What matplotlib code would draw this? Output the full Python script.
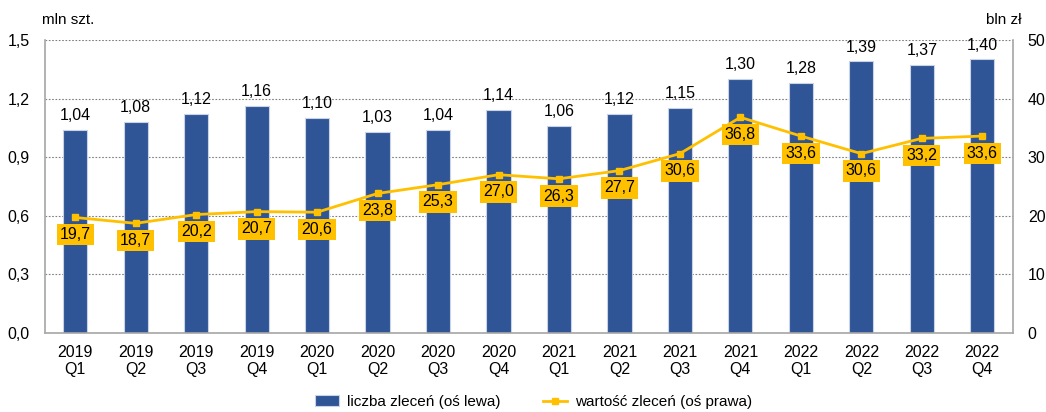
import matplotlib.pyplot as plt
import numpy as np
from matplotlib.ticker import FuncFormatter

plt.rcParams['font.family'] = ['Liberation Sans', 'DejaVu Sans']

quarters = ['2019\nQ1', '2019\nQ2', '2019\nQ3', '2019\nQ4',
            '2020\nQ1', '2020\nQ2', '2020\nQ3', '2020\nQ4',
            '2021\nQ1', '2021\nQ2', '2021\nQ3', '2021\nQ4',
            '2022\nQ1', '2022\nQ2', '2022\nQ3', '2022\nQ4']
liczba = [1.04, 1.08, 1.12, 1.16, 1.10, 1.03, 1.04, 1.14,
          1.06, 1.12, 1.15, 1.30, 1.28, 1.39, 1.37, 1.40]
wartosc = [19.7, 18.7, 20.2, 20.7, 20.6, 23.8, 25.3, 27.0,
           26.3, 27.7, 30.6, 36.8, 33.6, 30.6, 33.2, 33.6]

blue = '#2F5597'
yellow = '#FFC000'
gray = '#A6A6A6'
fs = 11.5

def comma(v, nd):
    return f'{v:.{nd}f}'.replace('.', ',')

fig = plt.figure(figsize=(10.46, 4.12), dpi=100)
ax = fig.add_axes([0.043, 0.192, 0.925, 0.711])
x = np.arange(len(quarters))

bars = ax.bar(x, liczba, width=0.4, color=blue, edgecolor='#C9D3E6', linewidth=0.8, zorder=2,
              label='liczba zleceń (oś lewa)')
ax.set_ylim(0, 1.5)
ax.set_yticks(np.arange(0, 1.51, 0.3))
ax.yaxis.set_major_formatter(FuncFormatter(lambda v, p: comma(v, 1)))
ax.set_xlim(-0.5, 15.5)
ax.set_xticks(x)
ax.set_xticklabels(quarters, fontsize=fs, linespacing=1.15)
ax.tick_params(axis='y', labelsize=fs, length=0, pad=11)
ax.tick_params(axis='x', length=0, pad=9)
ax.grid(axis='y', linestyle=(0, (1.5, 1.5)), color='#7F7F7F', linewidth=0.8, zorder=0)
ax.spines['top'].set_visible(False)
for s in ['left', 'right', 'bottom']:
    ax.spines[s].set_color(gray)
    ax.spines[s].set_linewidth(1.2)

for xi, v in zip(x, liczba):
    ax.annotate(comma(v, 2), (xi, v), xytext=(0, 5), textcoords='offset points',
                ha='center', va='bottom', fontsize=fs)

ax2 = ax.twinx()
ax2.set_ylim(0, 50)
ax2.set_yticks(np.arange(0, 51, 10))
ax2.tick_params(axis='y', labelsize=fs, length=0, pad=11)
for s in ax2.spines.values():
    s.set_visible(False)
line, = ax2.plot(x, wartosc, color=yellow, linewidth=2, marker='s', markersize=5, zorder=3,
                 label='wartość zleceń (oś prawa)')
for xi, v in zip(x, wartosc):
    ax2.annotate(comma(v, 1), (xi, v), xytext=(0, -7), textcoords='offset points',
                 ha='center', va='top', fontsize=fs,
                 bbox=dict(boxstyle='square,pad=0.2', fc=yellow, ec='none'))

fig.text(0.04, 0.935, 'mln szt.', fontsize=fs - 0.5, ha='left', va='bottom')
fig.text(0.977, 0.935, 'bln zł', fontsize=fs - 0.5, ha='right', va='bottom')

fig.legend(handles=[bars, line], loc='center', bbox_to_anchor=(0.51, 0.024), ncol=2,
           frameon=False, fontsize=11, handlelength=1.6, handletextpad=0.5, columnspacing=2.8,
           borderpad=0)

fig.savefig('out.png', dpi=100)
